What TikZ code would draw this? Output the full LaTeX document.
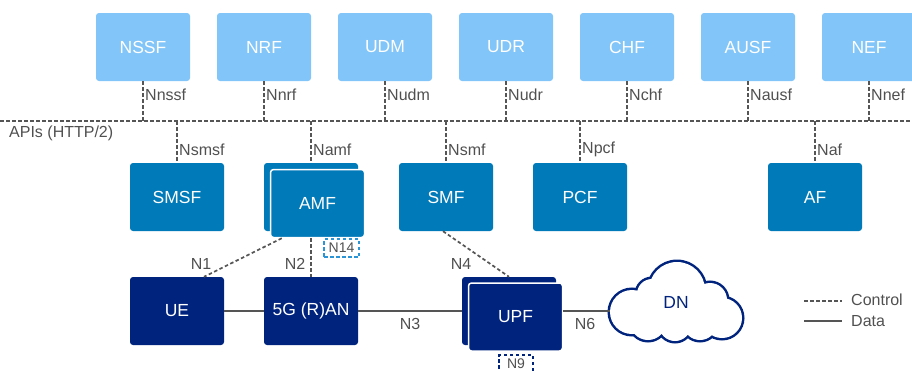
\documentclass[tikz,border=0pt]{standalone}
\usepackage{fontspec}
\setmainfont{Liberation Sans}
\usetikzlibrary{calc}
\definecolor{nflight}{HTML}{82C5F8}
\definecolor{nfmid}{HTML}{007AB8}
\definecolor{nfdark}{HTML}{00237D}
\definecolor{linegray}{HTML}{555555}
\definecolor{textgray}{HTML}{505050}
\definecolor{nfourteen}{HTML}{2A94D6}
\begin{document}
\begin{tikzpicture}[x=1pt,y=-1pt,
  nfbox/.style={draw=none,rounded corners=3pt,minimum width=94pt,minimum height=68pt,
    text=white,font=\fontsize{17.5}{19}\selectfont,inner sep=0pt},
  toprow/.style={nfbox,fill=nflight},
  midrow/.style={nfbox,fill=nfmid},
  botrow/.style={nfbox,fill=nfdark},
  stackfront/.style={draw=white,line width=1.5pt},
  ctrl/.style={draw=linegray,line width=1.7pt,dash pattern=on 3.5pt off 2.5pt},
  data/.style={draw=linegray,line width=2pt},
  iflabel/.style={text=textgray,font=\fontsize{16}{18}\selectfont,inner sep=1pt},
  loopbox/.style={line width=1.6pt,dash pattern=on 3.5pt off 2.5pt,
    minimum height=18pt,inner sep=0pt,text=textgray,font=\fontsize{14}{16}\selectfont}
]
\useasboundingbox (0,0) rectangle (912,370);

% service bus
\coordinate (busL) at (0,121);
\coordinate (busR) at (912,121);
\draw[ctrl] (busL) -- (busR);
\node[iflabel,anchor=west] (apis) at (8,133) {APIs (HTTP/2)};

% upper network functions
\foreach \nm/\lbl/\iface [count=\i from 0] in
  {nssf/NSSF/Nnssf, nrf/NRF/Nnrf, udm/UDM/Nudm, udr/UDR/Nudr,
   chf/CHF/Nchf, ausf/AUSF/Nausf, nef/NEF/Nnef}{
  \node[toprow] (\nm) at (143+121*\i,47) {\lbl};
  \coordinate (\nm bus) at (143+121*\i,121);
  \draw[ctrl] (\nm.south) -- (\nm bus);
  \node[iflabel,anchor=west] (\nm if) at (144+121*\i,95) {\iface};
}

% middle network functions
\node[midrow] (smsf) at (177,197) {SMSF};
\node[midrow] (amfback) at (311,197) {};
\node[midrow,stackfront] (amf) at (317.5,203.5) {AMF};
\node[midrow] (smf) at (446,197) {SMF};
\node[midrow] (pcf) at (580,197) {PCF};
\node[midrow] (af) at (815,197) {AF};

\foreach \nm/\tgt/\iface in {smsf/smsf/Nsmsf, amf/amfback/Namf, smf/smf/Nsmf, pcf/pcf/Npcf, af/af/Naf}{
  \coordinate (\nm bus) at (\tgt.north |- busL);
  \draw[ctrl] (\nm bus) -- (\tgt.north);
  \node[iflabel,anchor=west] (\nm if) at ($(\tgt.north)+(1,-13)$) {\iface};
}

% user plane
\node[botrow] (ue) at (177,311) {UE};
\node[botrow] (ran) at (311,311) {5G (R)AN};
\node[botrow] (upfback) at (509,311) {};
\node[botrow,stackfront] (upf) at (515.5,317) {UPF};

% data network cloud: stroked puffs, then white fill over their inner halves
\def\puffs{(632,312) circle[radius=22] (652,294) circle[radius=15]
  (677,290) circle[radius=28] (710,300) circle[radius=17]
  (722,318) circle[radius=20] (648,322) circle[radius=18]
  (675,325) circle[radius=16] (700,323) circle[radius=17]}
\draw[nfdark,line width=5pt] \puffs;
\fill[white] \puffs;
\fill[white] (630,295) rectangle (725,330);
\node[minimum width=132pt,minimum height=78pt,inner sep=0pt,text=nfdark,
  font=\fontsize{17.5}{19}\selectfont] (dn) at (676,302) {DN};

% data plane links
\draw[data] (ue.east) -- (ran.west);
\draw[data] (ran.east) -- (upfback.west |- ran.east);
\draw[data] (upf.east |- ran.east) -- (dn.west |- ran.east);
\node[iflabel] (n3) at (410,324) {N3};
\node[iflabel] (n6) at (585,324) {N6};

% control plane links
\coordinate (n1a) at ($(amf.south west)+(12,0)$);
\coordinate (n1b) at ($(ue.north)+(27,0)$);
\draw[ctrl] (n1a) -- (n1b);
\node[iflabel] (n1) at (201,264) {N1};
\coordinate (n2a) at (amfback.south |- amf.south);
\draw[ctrl] (n2a) -- (ran.north);
\node[iflabel] (n2) at (295,264) {N2};
\coordinate (n4a) at ($(smf.south)+(-3,0)$);
\draw[ctrl] (n4a) -- (upfback.north);
\node[iflabel] (n4) at (461,264) {N4};

% looped interfaces
\node[loopbox,draw=nfourteen,minimum width=35pt] (n14) at (341.5,248) {N14};
\node[loopbox,draw=nfdark,minimum width=34pt] (n9) at (516,364) {N9};

% legend
\coordinate (lgc1) at (804,301);
\coordinate (lgc2) at (842,301);
\coordinate (lgd1) at (804,321);
\coordinate (lgd2) at (842,321);
\draw[ctrl] (lgc1) -- (lgc2);
\draw[data] (lgd1) -- (lgd2);
\node[iflabel,anchor=west] (lctl) at (850,300) {Control};
\node[iflabel,anchor=west] (ldat) at (850,321) {Data};
\end{tikzpicture}
\end{document}
